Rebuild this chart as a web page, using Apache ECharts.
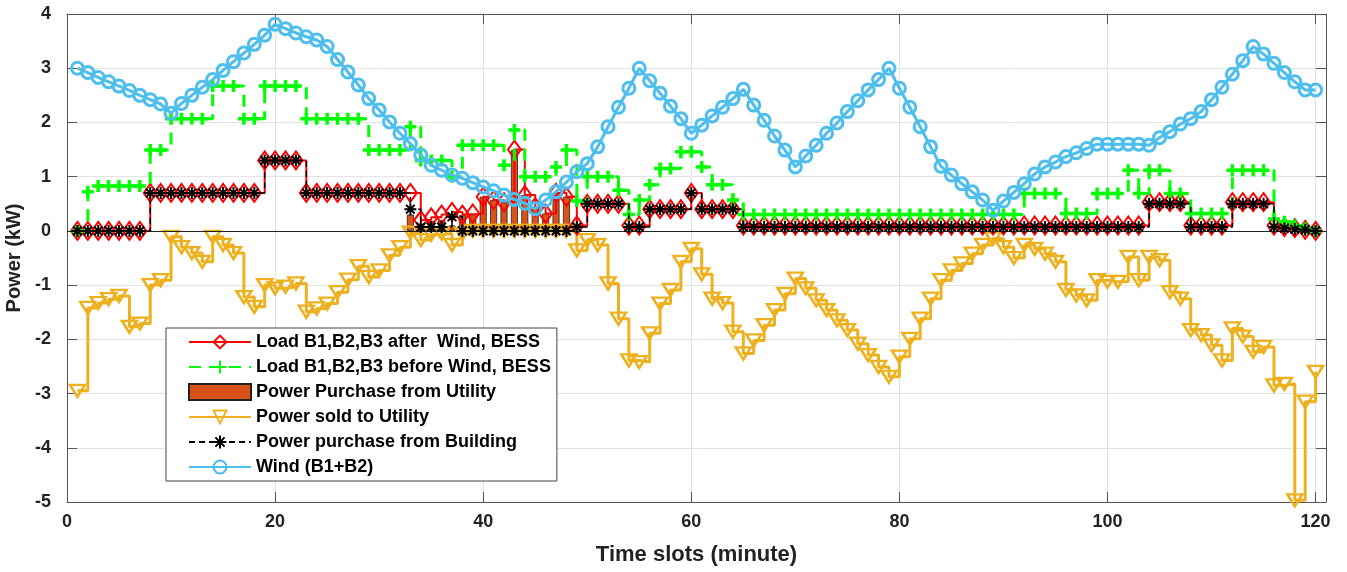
<!DOCTYPE html>
<html>
<head>
<meta charset="utf-8" />
<title></title>
<script type="text/javascript" src="https://cdn.jsdelivr.net/npm/echarts@6/dist/echarts.min.js"></script>
<style>
	html, body { margin: 0; padding: 0; background: #fff; }
</style>
</head>
<body>
	<div id="chartmain" style="width: 1347px; height: 572px;"></div>
	<script type="text/javascript">
		// time slots (minute)
		var slots = [
			1, 2, 3, 4, 5, 6, 7, 8, 9, 10, 11, 12, 13, 14, 15, 16, 17, 18, 19, 20,
			21, 22, 23, 24, 25, 26, 27, 28, 29, 30, 31, 32, 33, 34, 35, 36, 37, 38, 39, 40,
			41, 42, 43, 44, 45, 46, 47, 48, 49, 50, 51, 52, 53, 54, 55, 56, 57, 58, 59, 60,
			61, 62, 63, 64, 65, 66, 67, 68, 69, 70, 71, 72, 73, 74, 75, 76, 77, 78, 79, 80,
			81, 82, 83, 84, 85, 86, 87, 88, 89, 90, 91, 92, 93, 94, 95, 96, 97, 98, 99, 100,
			101, 102, 103, 104, 105, 106, 107, 108, 109, 110, 111, 112, 113, 114, 115, 116, 117, 118, 119, 120
		];

		var loadAfter = [
			0, 0, 0, 0, 0, 0, 0, 0.7, 0.7, 0.7, 0.7, 0.7, 0.7, 0.7, 0.7, 0.7, 0.7, 0.7, 1.3, 1.3,
			1.3, 1.3, 0.7, 0.7, 0.7, 0.7, 0.7, 0.7, 0.7, 0.7, 0.7, 0.7, 0.7, 0.2, 0.25, 0.3, 0.35, 0.3, 0.32, 0.63,
			0.57, 0.53, 1.5, 0.66, 0.44, 0.32, 0.7, 0.63, 0.1, 0.5, 0.5, 0.5, 0.5, 0.1, 0.1, 0.4, 0.4, 0.4, 0.4, 0.7,
			0.4, 0.4, 0.4, 0.4, 0.1, 0.1, 0.1, 0.1, 0.1, 0.1, 0.1, 0.1, 0.1, 0.1, 0.1, 0.1, 0.1, 0.1, 0.1, 0.1,
			0.1, 0.1, 0.1, 0.1, 0.1, 0.1, 0.1, 0.1, 0.1, 0.1, 0.1, 0.1, 0.1, 0.1, 0.1, 0.1, 0.1, 0.1, 0.1, 0.1,
			0.1, 0.1, 0.1, 0.53, 0.53, 0.53, 0.53, 0.1, 0.1, 0.1, 0.1, 0.53, 0.53, 0.53, 0.53, 0.1, 0.07, 0.05, 0.02, 0
		];

		var loadBefore = [
			0, 0.72, 0.83, 0.83, 0.83, 0.83, 0.83, 1.49, 1.49, 2.07, 2.07, 2.07, 2.07, 2.67, 2.67, 2.67, 2.07, 2.07, 2.67, 2.67,
			2.67, 2.67, 2.07, 2.07, 2.07, 2.07, 2.07, 2.07, 1.49, 1.49, 1.49, 1.49, 1.92, 1.3, 1.3, 1.3, 1.0, 1.58, 1.58, 1.58,
			1.58, 1.21, 1.86, 1.0, 1.0, 1.0, 1.18, 1.49, 0.55, 1.0, 1.0, 1.0, 0.75, 0.3, 0.57, 0.85, 1.15, 1.15, 1.46, 1.46,
			1.18, 0.85, 0.85, 0.57, 0.3, 0.3, 0.3, 0.3, 0.3, 0.3, 0.3, 0.3, 0.3, 0.3, 0.3, 0.3, 0.3, 0.3, 0.3, 0.3,
			0.3, 0.3, 0.3, 0.3, 0.3, 0.3, 0.3, 0.3, 0.3, 0.3, 0.3, 0.69, 0.69, 0.69, 0.69, 0.32, 0.32, 0.32, 0.69, 0.69,
			0.69, 1.12, 0.69, 1.12, 1.12, 0.69, 0.69, 0.32, 0.32, 0.32, 0.32, 1.12, 1.12, 1.12, 1.12, 0.22, 0.17, 0.1, 0.05, 0
		];

		var purchaseUtility = [
			0, 0, 0, 0, 0, 0, 0, 0, 0, 0, 0, 0, 0, 0, 0, 0, 0, 0, 0, 0,
			0, 0, 0, 0, 0, 0, 0, 0, 0, 0, 0, 0, 0.3, 0.13, 0.18, 0.2, 0.1, 0.29, 0.32, 0.63,
			0.57, 0.53, 1.49, 0.66, 0.44, 0.32, 0.7, 0.63, 0, 0, 0, 0, 0, 0, 0, 0, 0, 0, 0, 0,
			0, 0, 0, 0, 0, 0, 0, 0, 0, 0, 0, 0, 0, 0, 0, 0, 0, 0, 0, 0,
			0, 0, 0, 0, 0, 0, 0, 0, 0, 0, 0, 0, 0, 0, 0, 0, 0, 0, 0, 0,
			0, 0, 0, 0, 0, 0, 0, 0, 0, 0, 0, 0, 0, 0, 0, 0, 0, 0, 0, 0
		];

		var powerSold = [
			-2.95, -1.42, -1.33, -1.26, -1.2, -1.77, -1.71, -1.0, -0.91, -0.11, -0.3, -0.41, -0.57, -0.11, -0.26, -0.41, -1.22, -1.4, -1.0, -1.06,
			-1.03, -0.97, -1.49, -1.43, -1.34, -1.13, -0.9, -0.65, -0.85, -0.73, -0.45, -0.3, -0.03, -0.17, -0.07, -0.05, -0.26, -0.05, 0, 0,
			0, 0, 0, 0, 0, 0, 0, 0, -0.36, -0.17, -0.26, -0.97, -1.62, -2.39, -2.42, -1.89, -1.34, -1.09, -0.57, -0.33,
			-0.8, -1.25, -1.33, -1.86, -2.26, -2.02, -1.74, -1.46, -1.16, -0.88, -1.06, -1.28, -1.46, -1.65, -1.83, -2.08, -2.29, -2.51, -2.69, -2.32,
			-1.99, -1.62, -1.25, -0.91, -0.73, -0.6, -0.42, -0.26, -0.14, -0.3, -0.5, -0.26, -0.33, -0.42, -0.57, -1.09, -1.19, -1.28, -0.91, -0.94,
			-0.94, -0.48, -0.91, -0.48, -0.54, -1.13, -1.25, -1.83, -1.92, -2.11, -2.39, -1.8, -1.95, -2.23, -2.14, -2.85, -2.82, -4.97, -3.15, -2.6
		];

		var purchaseBuilding = [
			0, 0, 0, 0, 0, 0, 0, 0.7, 0.7, 0.7, 0.7, 0.7, 0.7, 0.7, 0.7, 0.7, 0.7, 0.7, 1.3, 1.3,
			1.3, 1.3, 0.7, 0.7, 0.7, 0.7, 0.7, 0.7, 0.7, 0.7, 0.7, 0.7, 0.4, 0.07, 0.07, 0.07, 0.26, 0, 0, 0,
			0, 0, 0, 0, 0, 0, 0, 0, 0.07, 0.5, 0.5, 0.5, 0.5, 0.07, 0.07, 0.4, 0.4, 0.4, 0.4, 0.7,
			0.4, 0.4, 0.4, 0.4, 0.07, 0.07, 0.07, 0.07, 0.07, 0.07, 0.07, 0.07, 0.07, 0.07, 0.07, 0.07, 0.07, 0.07, 0.07, 0.07,
			0.07, 0.07, 0.07, 0.07, 0.07, 0.07, 0.07, 0.07, 0.07, 0.07, 0.07, 0.07, 0.07, 0.07, 0.07, 0.07, 0.07, 0.07, 0.07, 0.07,
			0.07, 0.07, 0.07, 0.5, 0.5, 0.5, 0.5, 0.07, 0.07, 0.07, 0.07, 0.5, 0.5, 0.5, 0.5, 0.07, 0.05, 0.03, 0.02, 0
		];

		var wind = [
			3.0, 2.92, 2.83, 2.75, 2.67, 2.59, 2.5, 2.42, 2.34, 2.17, 2.35, 2.5, 2.65, 2.79, 2.96, 3.12, 3.28, 3.44, 3.61, 3.81,
			3.73, 3.65, 3.58, 3.52, 3.4, 3.16, 2.93, 2.69, 2.44, 2.23, 2.01, 1.8, 1.61, 1.4, 1.21, 1.12, 1.03, 0.97, 0.89, 0.81,
			0.74, 0.66, 0.58, 0.51, 0.41, 0.57, 0.72, 0.9, 1.09, 1.24, 1.55, 1.92, 2.28, 2.63, 3.0, 2.77, 2.54, 2.3, 2.07, 1.8,
			1.95, 2.12, 2.28, 2.44, 2.61, 2.32, 2.04, 1.75, 1.49, 1.18, 1.38, 1.58, 1.8, 1.99, 2.2, 2.4, 2.6, 2.79, 3.0, 2.63,
			2.28, 1.92, 1.55, 1.19, 1.03, 0.87, 0.72, 0.57, 0.38, 0.55, 0.71, 0.87, 1.05, 1.18, 1.27, 1.37, 1.44, 1.52, 1.6, 1.6,
			1.6, 1.6, 1.6, 1.58, 1.72, 1.83, 1.97, 2.07, 2.2, 2.42, 2.65, 2.89, 3.14, 3.4, 3.26, 3.09, 2.92, 2.75, 2.6, 2.6
		];

		var xTicks = [0, 20, 40, 60, 80, 100, 120];

		function pairs(vals) {
			var out = [];
			for (var i = 0; i < slots.length; i++) {
				out.push([slots[i], vals[i]]);
			}
			return out;
		}
		function barPairs(vals) {
			var out = [];
			for (var i = 0; i < slots.length; i++) {
				if (vals[i] > 0) out.push([slots[i], vals[i]]);
			}
			return out;
		}

		var plusPath = 'path://M0,-5L0,5M-5,0L5,0';
		var starPath = 'path://M0,-5L0,5M-5,0L5,0M-3.6,-3.6L3.6,3.6M-3.6,3.6L3.6,-3.6';
		var font = '"Liberation Sans", Arial, sans-serif';

		var names = [
			'Load B1,B2,B3 after  Wind, BESS',
			'Load B1,B2,B3 before Wind, BESS',
			'Power Purchase from Utility',
			'Power sold to Utility',
			'Power purchase from Building',
			'Wind (B1+B2)'
		];

		var option = {
			animation : false,
			backgroundColor : '#fff',
			grid : {
				left : 67,
				right : 21,
				top : 14,
				bottom : 70,
				outerBoundsMode : 'none'
			},
			legend : {
				orient : 'vertical',
				left : 166,
				top : 328,
				padding : [ 5, 6, 5, 22 ],
				itemWidth : 62,
				itemHeight : 16,
				itemGap : 7,
				backgroundColor : '#fff',
				borderColor : '#444',
				borderWidth : 1,
				textStyle : {
					fontFamily : font,
					fontWeight : 'bold',
					fontSize : 18,
					lineHeight : 18,
					color : '#000'
				},
				data : [ names[0], names[1], { name : names[2], icon : 'rect' }, names[3], names[4], names[5] ]
			},
			xAxis : [ {
				type : 'value',
				min : 0,
				max : 121,
				interval : 20,
				name : 'Time slots (minute)',
				nameLocation : 'middle',
				nameGap : 42,
				nameTextStyle : { fontFamily : font, fontWeight : 'bold', fontSize : 22, color : '#222' },
				axisLine : { onZero : false, lineStyle : { color : '#555', width : 1 } },
				axisTick : { inside : true, length : 10, lineStyle : { color : '#555' } },
				axisLabel : {
					margin : 11,
					fontFamily : font,
					fontWeight : 'bold',
					fontSize : 18,
					color : '#222',
					formatter : function(v) { return xTicks.indexOf(v) >= 0 ? String(v) : ''; }
				},
				splitLine : { show : true, lineStyle : { color : '#e3e3e3', width : 1 } }
			}, {
				type : 'value',
				position : 'top',
				min : 0,
				max : 121,
				interval : 20,
				axisLine : { onZero : false, lineStyle : { color : '#555', width : 1 } },
				axisTick : { inside : true, length : 10, lineStyle : { color : '#555' } },
				axisLabel : { show : false },
				splitLine : { show : false }
			} ],
			yAxis : [ {
				type : 'value',
				min : -5,
				max : 4,
				interval : 1,
				name : 'Power (kW)',
				nameLocation : 'middle',
				nameGap : 35,
				nameTextStyle : { fontFamily : font, fontWeight : 'bold', fontSize : 20, color : '#222' },
				axisLine : { show : true, onZero : false, lineStyle : { color : '#555', width : 1 } },
				axisTick : { show : true, inside : true, length : 10, lineStyle : { color : '#555' } },
				axisLabel : { margin : 16, fontFamily : font, fontWeight : 'bold', fontSize : 18, color : '#222' },
				splitLine : { show : true, lineStyle : { color : '#e3e3e3', width : 1 } }
			}, {
				type : 'value',
				position : 'right',
				min : -5,
				max : 4,
				interval : 1,
				axisLine : { show : true, onZero : false, lineStyle : { color : '#555', width : 1 } },
				axisTick : { show : true, inside : true, length : 10, lineStyle : { color : '#555' } },
				axisLabel : { show : false },
				splitLine : { show : false }
			} ],
			series : [ {
				// bars from the utility
				name : names[2],
				type : 'bar',
				z : 1,
				barWidth : 7,
				itemStyle : { color : '#D95319', borderColor : '#222', borderWidth : 0.8 },
				data : barPairs(purchaseUtility),
				markLine : {
					silent : true,
					symbol : 'none',
					label : { show : false },
					lineStyle : { color : '#222', type : 'solid', width : 1.2 },
					data : [ { yAxis : 0 } ]
				}
			}, {
				name : names[3],
				type : 'line',
				step : 'end',
				z : 2,
				symbol : 'triangle',
				symbolRotate : 180,
				symbolSize : [ 15, 12 ],
				lineStyle : { color : '#EDB120', width : 3 },
				itemStyle : { color : 'rgba(0,0,0,0)', borderColor : '#EDB120', borderWidth : 2.5 },
				data : pairs(powerSold)
			}, {
				name : names[0],
				type : 'line',
				step : 'end',
				z : 3,
				symbol : 'diamond',
				symbolSize : [ 13, 18 ],
				lineStyle : { color : '#FF0000', width : 2 },
				itemStyle : { color : 'rgba(0,0,0,0)', borderColor : '#FF0000', borderWidth : 2 },
				data : pairs(loadAfter)
			}, {
				name : names[1],
				type : 'line',
				step : 'end',
				z : 4,
				symbol : plusPath,
				symbolSize : 12,
				lineStyle : { color : '#00FF00', width : 3, type : [ 12, 8 ] },
				itemStyle : { color : '#00FF00', borderColor : '#00FF00', borderWidth : 3.5 },
				data : pairs(loadBefore)
			}, {
				name : names[4],
				type : 'line',
				step : 'end',
				z : 5,
				symbol : starPath,
				symbolSize : 12,
				lineStyle : { color : '#000', width : 1.5, type : [ 6, 4 ] },
				itemStyle : { color : '#000', borderColor : '#000', borderWidth : 2 },
				data : pairs(purchaseBuilding)
			}, {
				name : names[5],
				type : 'line',
				z : 6,
				symbol : 'circle',
				symbolSize : 12,
				lineStyle : { color : '#4DBEEE', width : 3 },
				itemStyle : { color : 'rgba(0,0,0,0)', borderColor : '#4DBEEE', borderWidth : 3 },
				data : pairs(wind)
			} ]
		};

		var myChart = echarts.init(document.getElementById('chartmain'));
		myChart.setOption(option);
	</script>
</body>
</html>
